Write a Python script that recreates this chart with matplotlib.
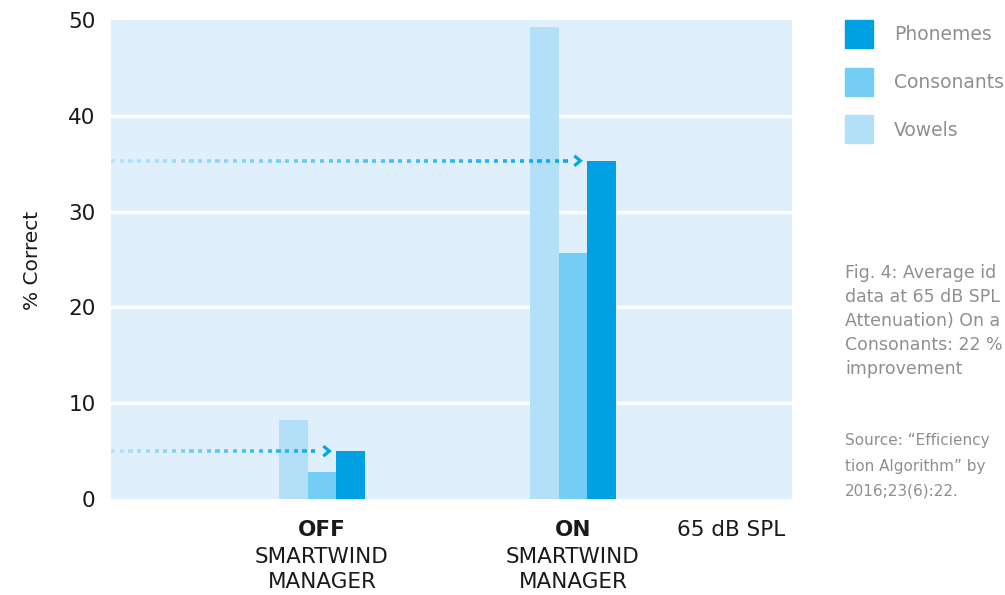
import matplotlib
matplotlib.use("Agg")
import matplotlib.pyplot as plt
from matplotlib.patches import Rectangle
from matplotlib.collections import LineCollection
from matplotlib.colors import to_rgb
import numpy as np

plt.rcParams['font.family'] = ['DejaVu Sans']

# data
groups = ["OFF", "ON"]
group_sub = ["SMARTWIND", "MANAGER"]
series = ["Vowels", "Consonants", "Phonemes"]
vowels = [8.2, 49.3]
consonants = [2.8, 25.7]
phonemes = [5.0, 35.3]
yticks = [0, 10, 20, 30, 40, 50]
level_label = "65 dB SPL"

colors = {"Vowels": "#b3e0f8", "Consonants": "#74cdf5", "Phonemes": "#00a0e3"}
bg = "#dff0fc"
tick_color = "#1a1a1a"
grey = "#8f8f8f"

# the caption is cut off at the right edge of the reference
caption = ["Fig. 4: Average id",
           "data at 65 dB SPL",
           "Attenuation) On a",
           "Consonants: 22 %",
           "improvement"]
source = ["Source: \u201cEfficiency",
          "tion Algorithm\u201d by",
          "2016;23(6):22."]

W, H = 1005, 595
fig = plt.figure(figsize=(W / 100, H / 100), dpi=100)
ax = fig.add_axes([111 / W, 1 - 499 / H, 681 / W, 479 / H])
ax.set_facecolor(bg)
for s in ax.spines.values():
    s.set_visible(False)

x = np.arange(len(groups))
w = 0.1143
vals = {"Vowels": vowels, "Consonants": consonants, "Phonemes": phonemes}
for i, name in enumerate(series):
    ax.bar(x + (i - 1) * w, vals[name], width=w, color=colors[name], zorder=3)

ax.set_xlim(-0.8406, 1.8725)
ax.set_ylim(0, 50)
ax.set_yticks(yticks)
ax.set_yticklabels([str(t) for t in yticks], fontsize=15.5, color=tick_color)
ax.tick_params(axis="y", length=0, pad=11)
ax.set_xticks([])
for t in [10, 20, 30, 40]:
    ax.axhline(t, color="white", lw=2.3, zorder=1)

# group labels
def below(text, xd, dy, **kw):
    ax.annotate(text, (xd, 0), xytext=(0, -dy), textcoords="offset pixels",
                ha="center", va="center", fontsize=15.5, color=tick_color,
                annotation_clip=False, **kw)

for xi, g in zip(x, groups):
    below(g, xi, 31, fontweight="bold")
    below(group_sub[0], xi, 58)
    below(group_sub[1], xi, 83)
below(level_label, 1.63, 31)

fig.text(33 / W, 1 - 260 / H, "% Correct", rotation=90, ha="center",
         va="center", fontsize=14.5, color=tick_color)

# dotted gradient arrows pointing at the phoneme bars
c0 = np.array(to_rgb("#b8e2f8"))
c1 = np.array(to_rgb("#00a8ea"))
px = 1 / 251.0
py = 50 / 479.0
x0 = ax.get_xlim()[0]
for xi, yv in zip(x, phonemes):
    tip = xi + 0.5 * w - 7 * px
    period, dash = 8.7 * px, 4.2 * px
    starts = np.arange(x0, tip - 10 * px, period)
    segs = [[(s, yv), (s + dash, yv)] for s in starts]
    f = (starts - x0) / (tip - x0)
    cols = [tuple(c0 + (c1 - c0) * fi) for fi in f]
    ax.add_collection(LineCollection(segs, colors=cols, linewidths=2.6,
                                     capstyle="butt", zorder=5))
    ax.plot([tip - 6 * px, tip, tip - 6 * px],
            [yv + 5 * py, yv, yv - 5 * py], color=c1, lw=2.3,
            solid_joinstyle="miter", solid_capstyle="butt", zorder=5)

# legend
for k, name in enumerate(["Phonemes", "Consonants", "Vowels"]):
    top = 20 + k * 47.5
    fig.patches.append(Rectangle((845 / W, 1 - (top + 28) / H), 28 / W, 28 / H,
                                 transform=fig.transFigure, color=colors[name]))
    fig.text(894 / W, 1 - (top + 15) / H, name, ha="left", va="center",
             fontsize=13.5, color=grey)

for k, line in enumerate(caption):
    fig.text(845 / W, 1 - (273 + 24 * k) / H, line, ha="left", va="center",
             fontsize=12.5, color=grey)
for k, line in enumerate(source):
    fig.text(845 / W, 1 - (441 + 25 * k) / H, line, ha="left", va="center",
             fontsize=11, color=grey)

fig.savefig("out.png", dpi=100)
